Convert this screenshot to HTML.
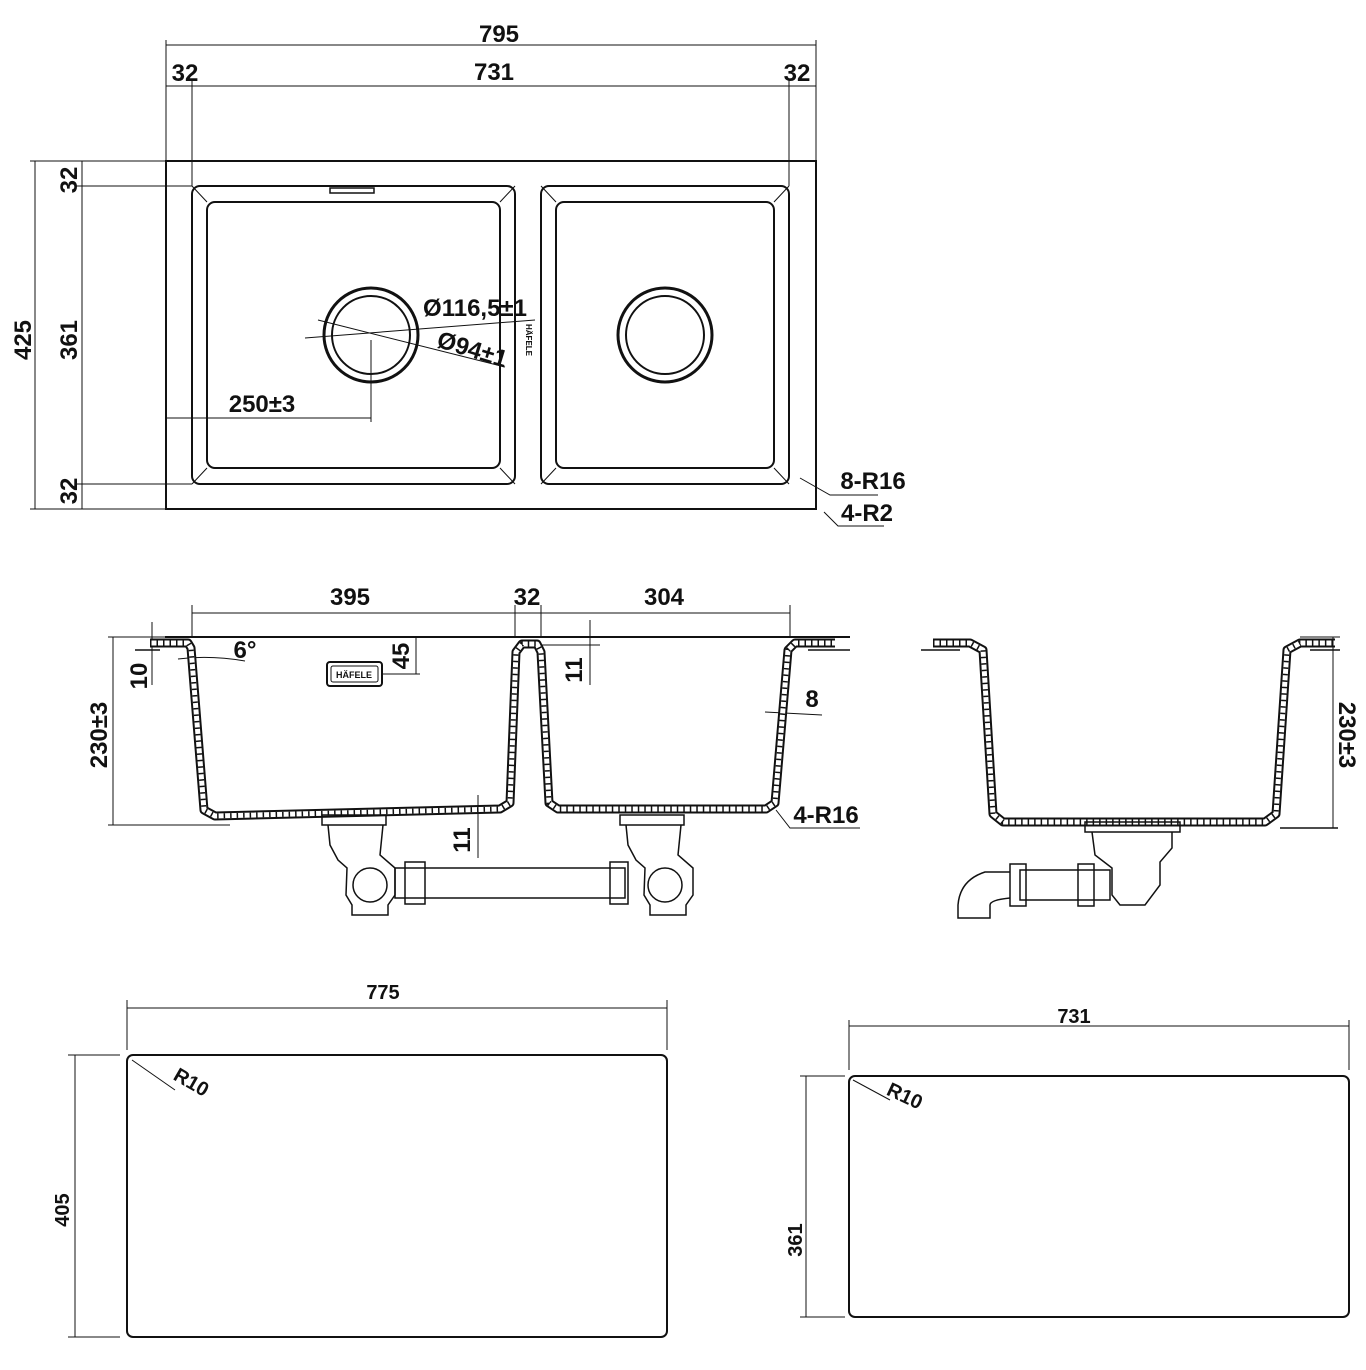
<!DOCTYPE html>
<html><head><meta charset="utf-8"><style>
html,body{margin:0;padding:0;background:#fff}
svg{display:block}
text{font-family:"Liberation Sans",Arial,sans-serif;font-weight:bold;fill:#111}
</style></head><body>
<svg width="1366" height="1370" viewBox="0 0 1366 1370" xmlns="http://www.w3.org/2000/svg">
<g fill="none" stroke="#111" stroke-width="1">
<rect x="166" y="161" width="650" height="348" stroke-width="2"/>
<rect x="192" y="186" width="323" height="298" rx="8" stroke-width="2"/>
<rect x="207" y="202" width="293" height="266" rx="8" stroke-width="2"/>
<line x1="192" y1="186" x2="207" y2="202"/><line x1="515" y1="186" x2="500" y2="202"/>
<line x1="192" y1="484" x2="207" y2="468"/><line x1="515" y1="484" x2="500" y2="468"/>
<rect x="541" y="186" width="248" height="298" rx="8" stroke-width="2"/>
<rect x="556" y="202" width="218" height="266" rx="8" stroke-width="2"/>
<line x1="541" y1="186" x2="556" y2="202"/><line x1="789" y1="186" x2="774" y2="202"/>
<line x1="541" y1="484" x2="556" y2="468"/><line x1="789" y1="484" x2="774" y2="468"/>
<rect x="330" y="188" width="44" height="5" stroke-width="1.5"/>
<circle cx="371" cy="335" r="47" stroke-width="3"/><circle cx="371" cy="335" r="39" stroke-width="2"/>
<circle cx="665" cy="335" r="47" stroke-width="3"/><circle cx="665" cy="335" r="39" stroke-width="2"/>
<line x1="318" y1="320" x2="505" y2="367"/><line x1="305" y1="338" x2="535" y2="320"/>
<line x1="166" y1="418" x2="371" y2="418"/><line x1="371" y1="340" x2="371" y2="422"/>
<line x1="166" y1="40" x2="166" y2="161"/><line x1="816" y1="40" x2="816" y2="161"/>
<line x1="166" y1="45" x2="816" y2="45"/>
<line x1="192" y1="80" x2="192" y2="186"/><line x1="789" y1="80" x2="789" y2="186"/>
<line x1="166" y1="86" x2="816" y2="86"/>
<line x1="30" y1="161" x2="166" y2="161"/><line x1="30" y1="509" x2="166" y2="509"/>
<line x1="35" y1="161" x2="35" y2="509"/>
<line x1="75" y1="186" x2="192" y2="186"/><line x1="75" y1="484" x2="192" y2="484"/>
<line x1="82" y1="161" x2="82" y2="509"/>
<polyline points="800,478 830,495 878,495"/><polyline points="824,512 838,526 884,526"/>
<line x1="165" y1="637" x2="850" y2="637" stroke-width="2"/>
<line x1="113" y1="637" x2="113" y2="825"/><line x1="108" y1="825" x2="230" y2="825"/>
<line x1="108" y1="637" x2="165" y2="637"/>
<line x1="152" y1="622" x2="152" y2="685"/>
<line x1="192" y1="605" x2="192" y2="637"/><line x1="515" y1="605" x2="515" y2="637"/>
<line x1="541" y1="605" x2="541" y2="637"/><line x1="790" y1="605" x2="790" y2="637"/>
<line x1="192" y1="613" x2="790" y2="613"/>
<line x1="416" y1="637" x2="416" y2="674"/><line x1="383" y1="674" x2="420" y2="674"/>
<line x1="590" y1="620" x2="590" y2="685"/><line x1="540" y1="645" x2="600" y2="645"/>
<line x1="478" y1="795" x2="478" y2="858"/>
<line x1="765" y1="712" x2="822" y2="715"/>
<path d="M178 659 Q210 655 245 661"/>
<path d="M776 810 L790 828 L860 828"/>
<rect x="327" y="662" width="55" height="24" rx="3" stroke-width="2"/>
<rect x="331" y="666" width="47" height="16" rx="2"/>
</g>
<g fill="none" stroke="#111" stroke-linejoin="round">
<g stroke-width="9"><path d="M150 643 L188 643 L191 648 L204 810 L215 816 L500 809 L510 803 L516 652 L522 644 L537 644 L541 652 L549 803 L558 809 L766 809 L775 803 L788 650 L795 643 L835 643"/>
<path d="M933 643 L970 643 L983 650 L993 814 L1003 822 L1265 822 L1276 814 L1287 650 L1300 643 L1335 643"/></g>
<g stroke-width="5" stroke="#fff"><path d="M150 643 L188 643 L191 648 L204 810 L215 816 L500 809 L510 803 L516 652 L522 644 L537 644 L541 652 L549 803 L558 809 L766 809 L775 803 L788 650 L795 643 L835 643"/>
<path d="M933 643 L970 643 L983 650 L993 814 L1003 822 L1265 822 L1276 814 L1287 650 L1300 643 L1335 643"/></g>
<g stroke-width="5" stroke-dasharray="1.5 5"><path d="M150 643 L188 643 L191 648 L204 810 L215 816 L500 809 L510 803 L516 652 L522 644 L537 644 L541 652 L549 803 L558 809 L766 809 L775 803 L788 650 L795 643 L835 643"/>
<path d="M933 643 L970 643 L983 650 L993 814 L1003 822 L1265 822 L1276 814 L1287 650 L1300 643 L1335 643"/></g>
</g>
<g fill="none" stroke="#111" stroke-width="1.5">
<path d="M135 650 L160 650 M808 650 L850 650 M921 650 L960 650 M1310 650 L1340 650"/>
<rect x="322" y="815" width="64" height="10"/>
<path d="M328 825 L330 845 L338 860 L347 868 L346 895 L352 905 L352 915 L388 915 L388 905 L395 895 L395 868 L380 855 L383 825"/>
<circle cx="370" cy="885" r="17"/>
<rect x="620" y="815" width="64" height="10"/>
<path d="M626 825 L628 845 L636 860 L645 868 L644 895 L650 905 L650 915 L686 915 L686 905 L693 895 L693 868 L678 855 L681 825"/>
<circle cx="665" cy="885" r="17"/>
<rect x="395" y="868" width="230" height="30"/>
<rect x="405" y="862" width="20" height="42"/><rect x="610" y="862" width="18" height="42"/>
<rect x="1085" y="822" width="95" height="10"/>
<path d="M1092 832 L1095 855 L1112 868 L1112 895 L1120 905 L1145 905 L1160 885 L1160 862 L1172 848 L1172 832"/>
<rect x="1020" y="870" width="90" height="30"/>
<rect x="1010" y="864" width="16" height="42"/><rect x="1078" y="864" width="16" height="42"/>
<path d="M1010 872 L985 872 Q960 880 958 905 L958 918 L990 918 L990 905 Q990 900 1010 898"/>
<line x1="1280" y1="828" x2="1338" y2="828"/>
<line x1="1333" y1="637" x2="1333" y2="828" stroke-width="1"/>
<line x1="1300" y1="637" x2="1340" y2="637" stroke-width="1"/>
<rect x="127" y="1055" width="540" height="282" rx="6" stroke-width="2"/>
<line x1="127" y1="1000" x2="127" y2="1050" stroke-width="1"/><line x1="667" y1="1000" x2="667" y2="1050" stroke-width="1"/>
<line x1="127" y1="1008" x2="667" y2="1008" stroke-width="1"/>
<line x1="68" y1="1055" x2="120" y2="1055" stroke-width="1"/><line x1="68" y1="1337" x2="120" y2="1337" stroke-width="1"/>
<line x1="75" y1="1055" x2="75" y2="1337" stroke-width="1"/>
<line x1="132" y1="1060" x2="175" y2="1090" stroke-width="1"/>
<rect x="849" y="1076" width="500" height="241" rx="6" stroke-width="2"/>
<line x1="849" y1="1020" x2="849" y2="1070" stroke-width="1"/><line x1="1349" y1="1020" x2="1349" y2="1070" stroke-width="1"/>
<line x1="849" y1="1026" x2="1349" y2="1026" stroke-width="1"/>
<line x1="800" y1="1076" x2="845" y2="1076" stroke-width="1"/><line x1="800" y1="1317" x2="845" y2="1317" stroke-width="1"/>
<line x1="806" y1="1076" x2="806" y2="1317" stroke-width="1"/>
<line x1="853" y1="1080" x2="890" y2="1100" stroke-width="1"/>
</g>
<g font-size="24">
<text x="499" y="42" text-anchor="middle">795</text>
<text x="494" y="80" text-anchor="middle">731</text>
<text x="185" y="81" text-anchor="middle">32</text>
<text x="797" y="81" text-anchor="middle">32</text>
<text transform="translate(31,340) rotate(-90)" text-anchor="middle">425</text>
<text transform="translate(77,340) rotate(-90)" text-anchor="middle">361</text>
<text transform="translate(77,180) rotate(-90)" text-anchor="middle">32</text>
<text transform="translate(77,491) rotate(-90)" text-anchor="middle">32</text>
<text x="262" y="412" text-anchor="middle">250±3</text>
<text x="475" y="316" text-anchor="middle">Ø116,5±1</text>
<text transform="translate(470,357) rotate(17)" text-anchor="middle">Ø94±1</text>
<text x="873" y="489" text-anchor="middle">8-R16</text>
<text x="867" y="521" text-anchor="middle">4-R2</text>
<text x="350" y="605" text-anchor="middle">395</text>
<text x="527" y="605" text-anchor="middle">32</text>
<text x="664" y="605" text-anchor="middle">304</text>
<text x="245" y="658" text-anchor="middle">6°</text>
<text transform="translate(409,656) rotate(-90)" text-anchor="middle">45</text>
<text transform="translate(147,676) rotate(-90)" text-anchor="middle">10</text>
<text transform="translate(107,735) rotate(-90)" text-anchor="middle">230±3</text>
<text transform="translate(582,670) rotate(-90)" text-anchor="middle">11</text>
<text transform="translate(470,840) rotate(-90)" text-anchor="middle">11</text>
<text x="812" y="707" text-anchor="middle">8</text>
<text x="826" y="823" text-anchor="middle">4-R16</text>
<text transform="translate(1339,735) rotate(90)" text-anchor="middle">230±3</text>
</g>
<g font-size="20">
<text x="383" y="999" text-anchor="middle">775</text>
<text transform="translate(69,1210) rotate(-90)" text-anchor="middle">405</text>
<text transform="translate(188,1088) rotate(30)" text-anchor="middle">R10</text>
<text x="1074" y="1023" text-anchor="middle">731</text>
<text transform="translate(802,1240) rotate(-90)" text-anchor="middle">361</text>
<text transform="translate(902,1102) rotate(25)" text-anchor="middle">R10</text>
</g>
<text x="354" y="678" font-size="9" text-anchor="middle">HÄFELE</text>
<text transform="translate(526,340) rotate(90)" font-size="8" text-anchor="middle">HÄFELE</text>
</svg>
</body></html>
